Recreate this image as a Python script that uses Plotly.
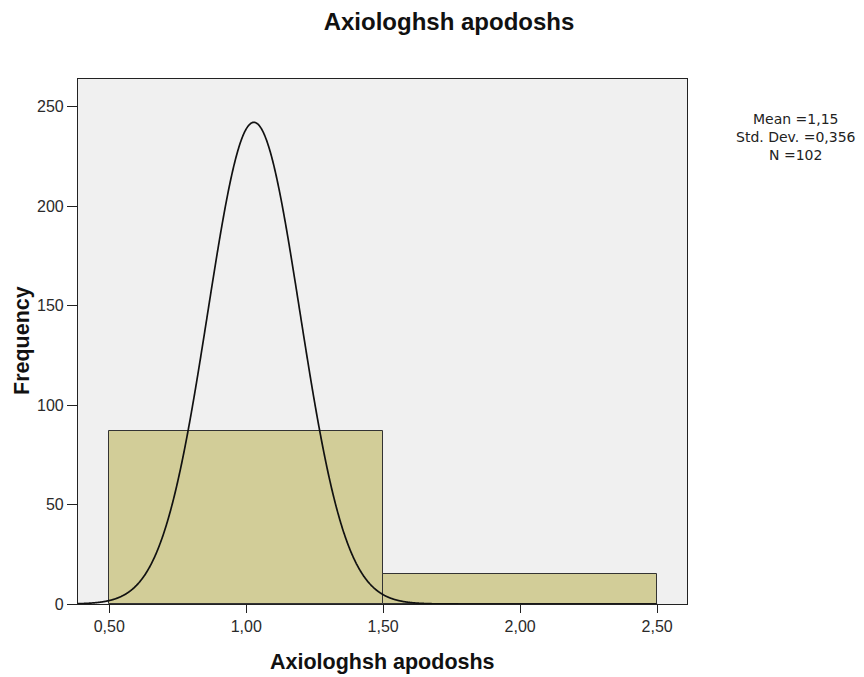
import numpy as np
import plotly.graph_objects as go

# Histogram bins and counts
bin_edges = [0.5, 1.5, 2.5]
counts = [87, 15]

# Fitted normal curve parameters (as drawn) and summary statistics
curve_mean = 1.028
curve_sd = 0.168
n_total = 102
stat_mean = "1,15"
stat_sd = "0,356"

x_ticks = [0.5, 1.0, 1.5, 2.0, 2.5]
y_ticks = [0, 50, 100, 150, 200, 250]

title_text = "Axiologhsh apodoshs"
x_title = "Axiologhsh apodoshs"
y_title = "Frequency"

centers = [(a + b) / 2 for a, b in zip(bin_edges[:-1], bin_edges[1:])]
widths = [b - a for a, b in zip(bin_edges[:-1], bin_edges[1:])]
bin_w = widths[0]

xs = np.linspace(0.386, 2.5, 1200)
ys = n_total * bin_w / (curve_sd * np.sqrt(2 * np.pi)) * np.exp(-0.5 * ((xs - curve_mean) / curve_sd) ** 2)

W, H = 864, 677
L, R, T, B = 78, 177, 79, 73
pw, ph = W - L - R, H - T - B


def px_x(px):
    return (px - L) / pw


def px_y(py):
    return (H - B - py) / ph


fig = go.Figure()
fig.add_trace(go.Bar(
    x=centers, y=counts, width=widths,
    marker=dict(color="#d2cd98", line=dict(color="#333333", width=1)),
    hoverinfo="y",
))
fig.add_trace(go.Scatter(
    x=xs, y=ys, mode="lines",
    line=dict(color="#111111", width=1.7, shape="spline"),
    hoverinfo="skip",
))

tick_font = dict(family="Liberation Sans, Arial", size=16, color="#2a2a2a")
title_font = dict(family="Liberation Sans, Arial", size=21.5, color="#111111")

fig.update_layout(
    width=W, height=H, autosize=False,
    margin=dict(l=L, r=R, t=T, b=B),
    paper_bgcolor="white",
    plot_bgcolor="#f0f0f0",
    showlegend=False,
    separators=",.",
    bargap=0,
    title=dict(
        text="<b>" + title_text + "</b>",
        x=449 / W, xanchor="center", y=1 - 22 / H, yanchor="middle",
        font=dict(family="Liberation Sans, Arial", size=24, color="#111111"),
    ),
    xaxis=dict(
        range=[0.386, 2.609],
        tickvals=x_ticks, tickformat=".2f",
        ticks="outside", ticklen=8, tickcolor="#222222", tickwidth=1.2,
        showline=True, linecolor="#222222", linewidth=1.2, mirror=True,
        showgrid=False, zeroline=False, automargin=False,
        tickfont=tick_font,
    ),
    yaxis=dict(
        range=[0, 264],
        tickvals=y_ticks,
        ticks="outside", ticklen=10, tickcolor="#222222", tickwidth=1.2,
        showline=True, linecolor="#222222", linewidth=1.2, mirror=True,
        showgrid=False, zeroline=False, automargin=False,
        tickfont=tick_font,
    ),
    annotations=[
        dict(
            text=f"Mean ={stat_mean}<br>Std. Dev. ={stat_sd}<br>N ={n_total}",
            xref="paper", yref="paper",
            x=px_x(796), y=px_y(137),
            xanchor="center", yanchor="middle", align="center",
            showarrow=False,
            font=dict(family="DejaVu Sans", size=14, color="#222222"),
        ),
        dict(
            text="<b>" + x_title + "</b>",
            xref="paper", yref="paper",
            x=0.5, y=px_y(662),
            xanchor="center", yanchor="middle",
            showarrow=False, font=title_font,
        ),
        dict(
            text="<b>" + y_title + "</b>",
            xref="paper", yref="paper",
            x=px_x(22), y=px_y(341),
            textangle=-90,
            xanchor="center", yanchor="middle",
            showarrow=False, font=title_font,
        ),
    ],
)

fig.write_html("out.html")
